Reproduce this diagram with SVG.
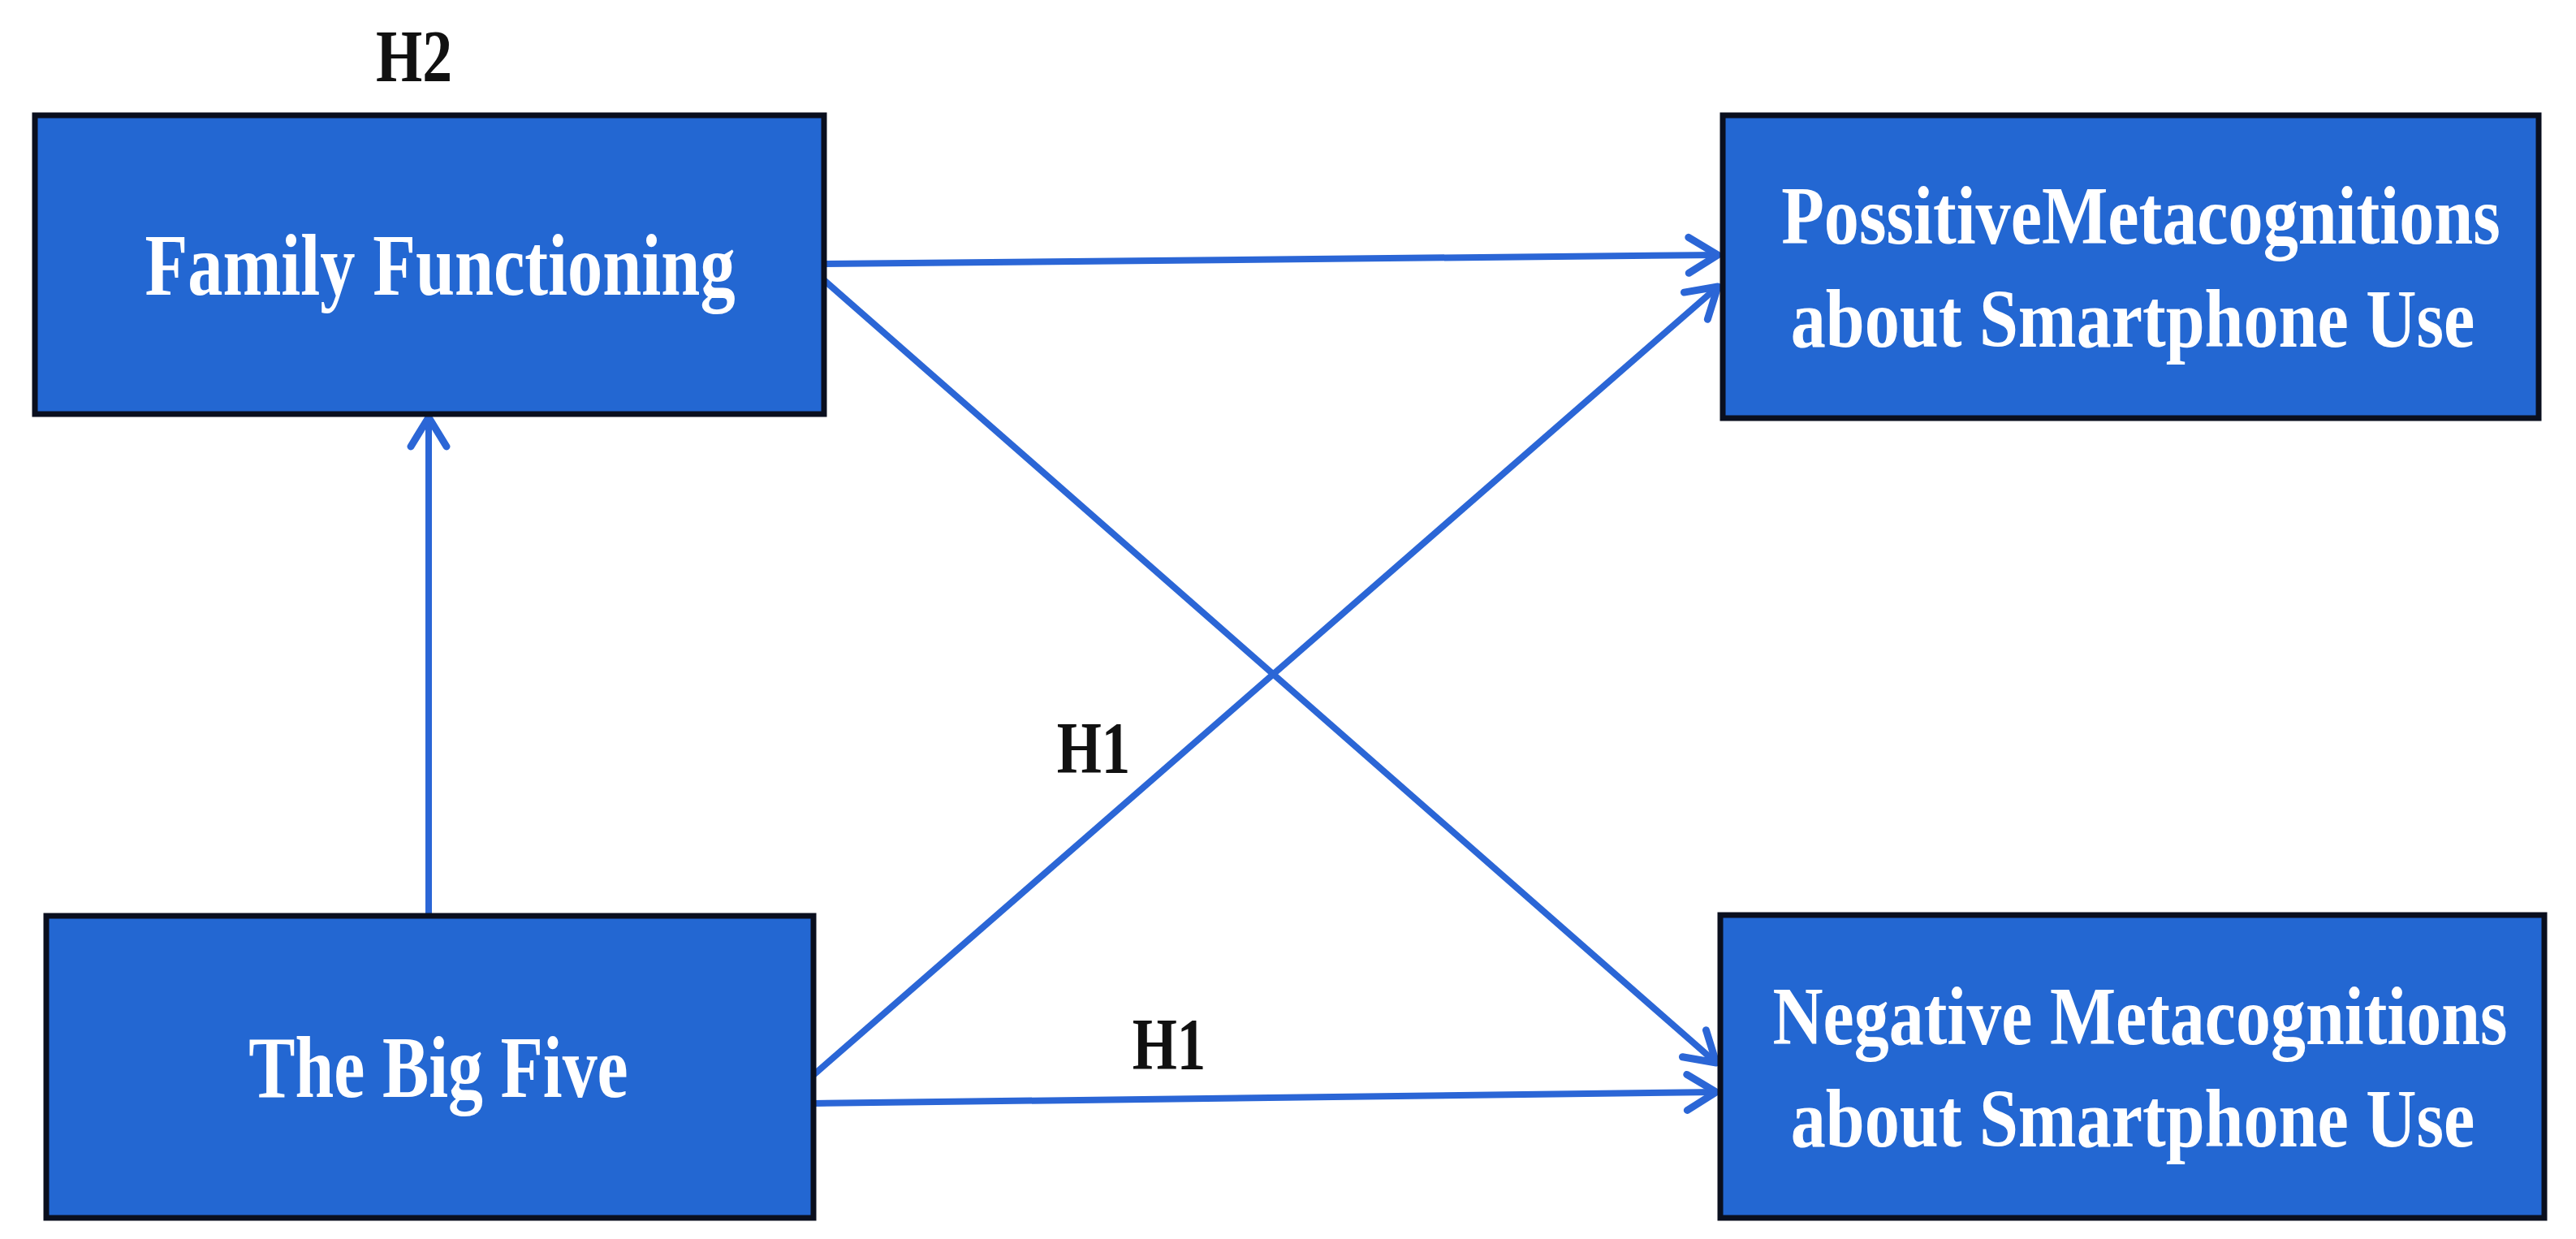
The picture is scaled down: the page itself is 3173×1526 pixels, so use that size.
<svg xmlns="http://www.w3.org/2000/svg" width="3173" height="1526" viewBox="0 0 3173 1526">
<style>
.box{fill:#2367d2;stroke:#0a0f1e;stroke-width:7}
.lbl{font-family:"Liberation Serif","Times New Roman",serif;font-weight:bold;fill:#ffffff;text-anchor:middle}
.hyp{font-family:"Liberation Serif","Times New Roman",serif;font-weight:bold;fill:#111111;text-anchor:middle}
.conn{stroke:#2b66d6;stroke-width:8;fill:none}
</style>
<defs>
<marker id="arr" markerUnits="userSpaceOnUse" markerWidth="60" markerHeight="70" viewBox="0 0 60 70" refX="46" refY="30" orient="auto">
<path d="M10,8 L46,30 L10,52" fill="none" stroke="#2b66d6" stroke-width="9" stroke-linecap="round" stroke-linejoin="round"/>
</marker>
</defs>
<rect width="3173" height="1526" fill="#ffffff"/>
<g id="connectors">
<line class="conn" x1="1015" y1="325" x2="2116" y2="314" marker-end="url(#arr)"/>
<line class="conn" x1="1015" y1="345" x2="2114" y2="1309" marker-end="url(#arr)"/>
<line class="conn" x1="1002" y1="1324" x2="2116" y2="353" marker-end="url(#arr)"/>
<line class="conn" x1="1002" y1="1359" x2="2114" y2="1345" marker-end="url(#arr)"/>
<line class="conn" x1="528" y1="1127" x2="528" y2="514" marker-end="url(#arr)"/>
</g>
<g id="labels">
<text class="hyp" transform="translate(510,100) scale(0.80,1)" font-size="92">H2</text>
<text class="hyp" transform="translate(1347,952) scale(0.77,1)" font-size="92">H1</text>
<text class="hyp" transform="translate(1440,1317) scale(0.77,1)" font-size="92">H1</text>
</g>
<g id="family-functioning">
<rect class="box" x="43" y="142" width="972" height="368"/>
<text class="lbl" transform="translate(542,363) scale(0.80,1)" font-size="108">Family Functioning</text>
</g>
<g id="big-five">
<rect class="box" x="57" y="1128" width="945" height="372"/>
<text class="lbl" transform="translate(540,1351) scale(0.795,1)" font-size="108">The Big Five</text>
</g>
<g id="positive-metacognitions">
<rect class="box" x="2122" y="142" width="1005" height="373"/>
<text class="lbl" transform="translate(2637,300) scale(0.845,1)" font-size="102">PossitiveMetacognitions</text>
<text class="lbl" transform="translate(2627,427) scale(0.845,1)" font-size="102">about Smartphone Use</text>
</g>
<g id="negative-metacognitions">
<rect class="box" x="2119" y="1127" width="1015" height="373"/>
<text class="lbl" transform="translate(2636,1286) scale(0.843,1)" font-size="102">Negative Metacognitions</text>
<text class="lbl" transform="translate(2627,1412) scale(0.845,1)" font-size="102">about Smartphone Use</text>
</g>
</svg>
